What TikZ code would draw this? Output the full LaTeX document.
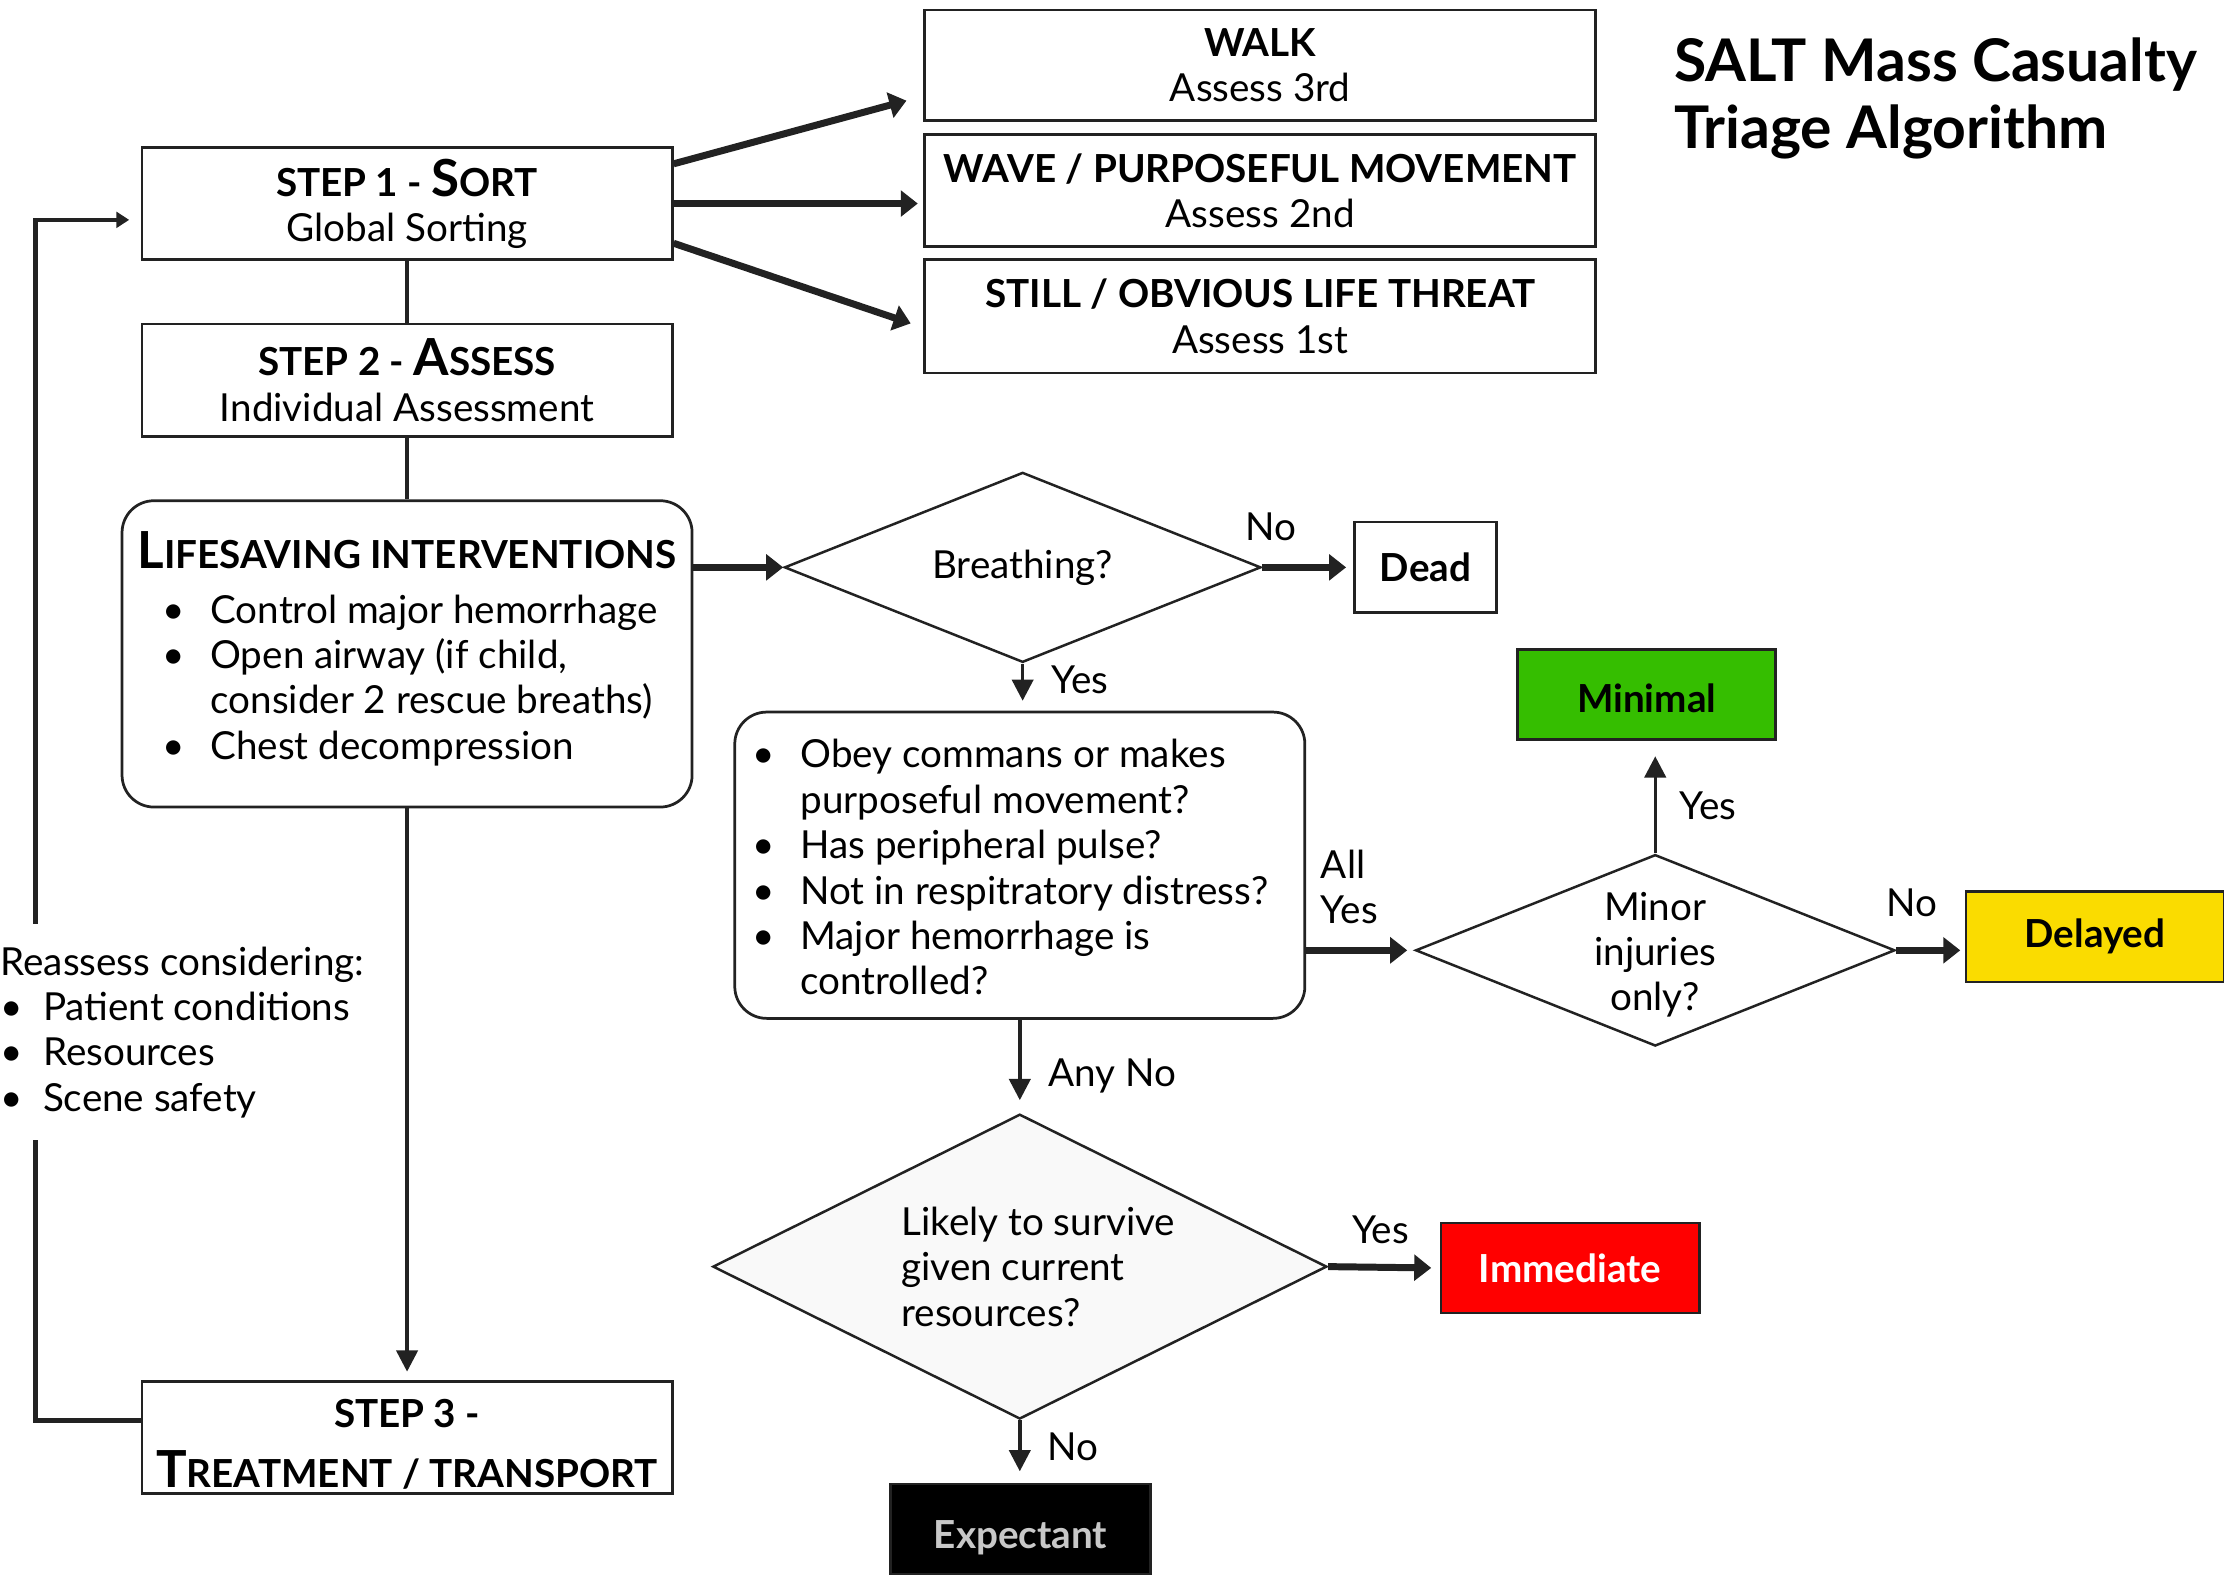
\documentclass[tikz,border=0pt]{standalone}
\usepackage{fontspec}
\setmainfont{Lato}
\usetikzlibrary{positioning, calc, shapes.geometric, arrows.meta}

\definecolor{lineclr}{HTML}{222222}
\definecolor{minimalgreen}{HTML}{35BE00}
\definecolor{delayedyellow}{HTML}{FADC00}
\definecolor{immediatered}{HTML}{FF0000}
\definecolor{likelyfill}{HTML}{F9F9F9}
\definecolor{expectgray}{HTML}{C8C8C8}

\newcommand{\bodyfont}{\fontsize{15.5}{18.2}\selectfont}
\newcommand{\initcap}[1]{{\fontsize{20.5}{20.5}\selectfont #1}}
\newcommand{\listdot}[1][0.68cm]{\makebox[#1][l]{\textbullet}}

\tikzset{
  stepbox/.style={draw=lineclr, line width=1.1pt, minimum width=7.48cm, minimum height=1.58cm, inner sep=0pt, align=center},
  movebox/.style={stepbox, minimum width=9.46cm},
  roundbox/.style={draw=lineclr, line width=1.1pt, rounded corners=0.45cm, minimum width=8.04cm, minimum height=4.32cm, inner sep=0pt},
  decision/.style={diamond, draw=lineclr, line width=1pt, aspect=2.5, inner sep=0pt, align=center},
  tagbox/.style={draw=lineclr, line width=1.1pt, minimum width=3.64cm, minimum height=1.27cm, inner sep=0pt, font=\bodyfont\bfseries},
  fatarrow/.style={-{Triangle[length=0.24cm, width=0.36cm]}, line width=2.8pt, draw=lineclr},
  slimarrow/.style={->, line width=1.4pt, draw=lineclr},
  lbl/.style={inner sep=0pt},
}

\begin{document}
\begin{tikzpicture}[x=0.02cm, y=-0.02cm,
  every node/.style={font=\bodyfont},
  >={Triangle[length=0.3cm, width=0.3cm]}]
\useasboundingbox (0,0) rectangle (1568,1110);

% steps
\node[stepbox] (step1) at (287,143.5) {{\bfseries STEP 1 - \initcap{S}ORT}\\Global Sorting};
\node[stepbox] (step2) at (287,268) {{\bfseries STEP 2 - \initcap{A}SSESS}\\Individual Assessment};
\node[stepbox] (step3) at (287,1013.5) {\rule{0pt}{17pt}{\bfseries STEP 3 -}\\[6pt]{\bfseries\initcap{T}REATMENT / TRANSPORT}};

% global sorting
\node[movebox, minimum height=1.56cm] (walk) at (888.5,46) {\textbf{WALK}\\Assess 3rd};
\node[movebox] (wave) at (888.5,134.5) {\textbf{WAVE / PURPOSEFUL MOVEMENT}\\Assess 2nd};
\node[movebox, minimum height=1.6cm] (still) at (888.5,223) {\textbf{STILL / OBVIOUS LIFE THREAT}\\Assess 1st};

\node[anchor=north west, align=left, inner sep=0pt, font=\fontsize{23.6}{27}\selectfont\bfseries] (title) at (1180,26) {SALT Mass Casualty\\Triage Algorithm};

% lifesaving interventions
\node[roundbox] (lsi) at (287,461) {};
\node[lbl, font=\bodyfont\bfseries] (lsititle) at (287,388) {\initcap{L}IFESAVING INTERVENTIONS};
\node[lbl, anchor=north west, align=left] (lsilist) at (114,419) {\listdot Control major hemorrhage\\
  \listdot Open airway (if child,\\
  \hspace*{0.68cm}consider 2 rescue breaths)\\
  \listdot Chest decompression};

% individual assessment
\node[decision, minimum width=6.72cm, minimum height=2.68cm] (breath) at (721,400) {Breathing?};
\node[tagbox, minimum width=2cm, minimum height=1.28cm] (dead) at (1005,400) {Dead};

\node[roundbox] (quest) at (719,610) {};
\node[lbl, anchor=north west, align=left] (questlist) at (530,521) {\listdot Obey commans or makes\\
  \hspace*{0.68cm}purposeful movement?\\
  \listdot Has peripheral pulse?\\
  \listdot Not in respitratory distress?\\
  \listdot Major hemorrhage is\\
  \hspace*{0.68cm}controlled?};

\node[decision, minimum width=6.76cm, minimum height=2.7cm] (minor) at (1167,670) {\rule{0pt}{14.8pt}Minor\\injuries\\only?};
\node[tagbox, fill=minimalgreen] (minimal) at (1161,489.5) {\raisebox{-0.25cm}[0pt][0pt]{Minimal}};
\node[tagbox, fill=delayedyellow] (delayed) at (1477,660.5) {Delayed};

\node[decision, aspect=2, fill=likelyfill, minimum width=8.66cm, minimum height=4.3cm, align=left] (likely) at (719,893) {\hspace*{0.52cm}Likely to survive\\\hspace*{0.52cm}given current\\\hspace*{0.52cm}resources?};
\node[tagbox, fill=immediatered, text=white] (immediate) at (1107,894) {Immediate};
\node[tagbox, fill=black, text=expectgray, minimum width=3.66cm] (expectant) at (719.5,1078) {\raisebox{-0.28cm}[0pt][0pt]{Expectant}};

% connectors
\draw[lineclr, line width=1.4pt] (step1) -- (step2);
\draw[lineclr, line width=1.4pt] (step2) -- (lsi);
\draw[fatarrow] ($(step1.east)+(0,-28)$) -- ($(walk.south west)+(-12,-15)$);
\draw[fatarrow, shorten >=0.08cm] (step1.east) -- (step1.east -| wave.west);
\draw[fatarrow] ($(step1.east)+(0,28)$) -- ($(still.west)+(-9,5)$);
\draw[fatarrow] (lsi.east |- breath.west) -- (breath.west);
\draw[fatarrow, shorten >=0.1cm] (breath.east) -- node[lbl, pos=0.1, above=0.32cm]{No} (dead.west);
\draw[slimarrow, shorten >=0.14cm] (breath.south) -- node[lbl, pos=0.35, right=0.38cm]{Yes} (breath.south |- quest.north);
\draw[fatarrow, shorten >=0.1cm] (quest.east |- minor.west) -- node[lbl, pos=0.4, above=0.32cm, align=left]{All\\Yes} (minor.west);
\draw[slimarrow, shorten >=0.22cm] (minor.north) -- node[lbl, pos=0.42, right=0.32cm]{Yes} (minor.north |- minimal.south);
\draw[fatarrow, shorten >=0.06cm] (minor.east) -- node[lbl, pos=0.23, above=0.42cm]{No} (minor.east -| delayed.west);
\draw[slimarrow, shorten >=0.18cm] (quest.south) -- node[lbl, pos=0.6, right=0.38cm]{Any No} (quest.south |- likely.north);
\draw[fatarrow, shorten >=0.12cm] (likely.east) -- node[lbl, pos=0.47, above=0.28cm]{Yes} (immediate.west);
\draw[slimarrow, shorten >=0.16cm] (likely.south) -- node[lbl, pos=0.42, right=0.36cm]{No} (likely.south |- expectant.north);
\draw[slimarrow, shorten >=0.12cm] (lsi.south) -- (step3.north);

% reassess loop
\coordinate (loopc) at (25,155);
\draw[lineclr, line width=1.7pt, -{Triangle[length=0.18cm, width=0.22cm]}, shorten >=0.16cm] ($(step3.west)+(0,-12)$) -| (loopc) -- (loopc -| step1.west);
\node[anchor=north west, align=left, fill=white, inner xsep=0pt, inner ysep=0.32cm] (reassess) at (0,651) {Reassess considering:\\
  \listdot[0.6cm]Patient conditions\\
  \listdot[0.6cm]Resources\\
  \listdot[0.6cm]Scene safety};
\end{tikzpicture}
\end{document}
